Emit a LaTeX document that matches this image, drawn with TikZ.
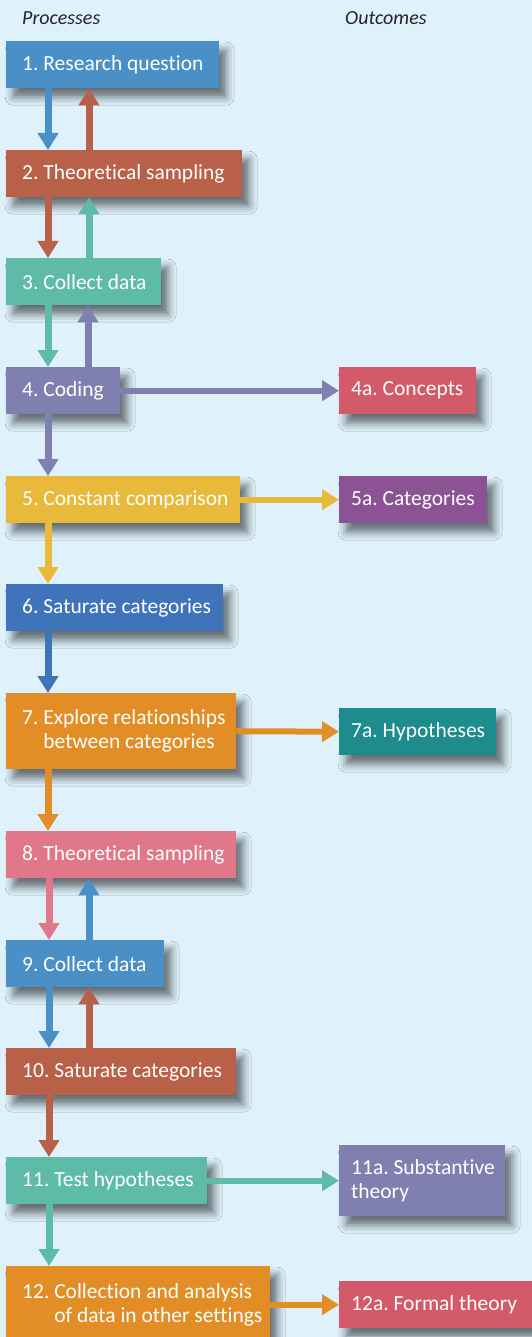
\documentclass[tikz,border=0pt]{standalone}
\usepackage{fontspec}
\setmainfont{Carlito}[Ligatures=NoCommon]
\usepackage{xcolor}
\definecolor{gtbg}{RGB}{223,242,252}
\definecolor{gthead}{RGB}{35,35,35}
\definecolor{gtblue}{RGB}{74,144,198}
\definecolor{gtrust}{RGB}{184,96,72}
\definecolor{gtteal}{RGB}{93,187,167}
\definecolor{gtviolet}{RGB}{128,128,176}
\definecolor{gtrose}{RGB}{211,90,104}
\definecolor{gtyellow}{RGB}{232,185,58}
\definecolor{gtplum}{RGB}{139,82,148}
\definecolor{gtroyal}{RGB}{64,116,186}
\definecolor{gtorange}{RGB}{226,141,38}
\definecolor{gtpetrol}{RGB}{30,140,140}
\definecolor{gtpink}{RGB}{224,120,137}
\usepackage{tikz}
\usetikzlibrary{arrows.meta, positioning, shadows.blur}

\tikzset{
  proc/.style={anchor=north west, inner sep=0pt, minimum height=47pt,
    blur shadow={shadow xshift=7pt, shadow yshift=-9pt, shadow blur radius=8pt, shadow opacity=55}},
  plbl/.style={anchor=west, text=white, font=\fontsize{21.5}{24}\selectfont\frenchspacing,
    inner xsep=16pt, inner ysep=0pt, align=left},
  olbl/.style={plbl, inner xsep=12pt},
  flow/.style={line width=7pt, -{Triangle[width=20pt,length=17pt]}},
  side/.style={line width=6pt, -{Triangle[width=20pt,length=17pt]}},
  head/.style={font=\fontsize{20}{22}\selectfont\itshape, text=gthead, anchor=base west, inner sep=0pt}
}

\begin{document}
\begin{tikzpicture}[x=1pt, y=-1pt]
  % Background
  \fill[gtbg] (0,0) rectangle (532,1337);
  \useasboundingbox (0,0) rectangle (532,1337);

  % Column headings
  \node[head] (hproc) at (22,25) {Processes};
  \node[head] (hout) at (345,25) {Outcomes};

  % Processes
  \node[proc, fill=gtblue, minimum width=213pt, label={[plbl]west:1. Research question}] (b1) at (6,41) {};
  \node[proc, fill=gtrust, minimum width=236pt, label={[plbl]west:2. Theoretical sampling}] (b2) at (6,150) {};
  \node[proc, fill=gtteal, minimum width=155pt, label={[plbl]west:3. Collect data}] (b3) at (6,258) {};
  \node[proc, fill=gtviolet, minimum width=114pt, label={[plbl]west:4. Coding}] (b4) at (6,367) {};
  \node[proc, fill=gtyellow, minimum width=234pt, label={[plbl]west:5. Constant comparison}] (b5) at (6,476) {};
  \node[proc, fill=gtroyal, minimum width=217pt, label={[plbl]west:6. Saturate categories}] (b6) at (6,584) {};
  \node[proc, fill=gtorange, minimum width=230pt, minimum height=76pt,
    label={[plbl]west:{7. Explore relationships\\\phantom{7. }between categories}}] (b7) at (6,693) {};
  \node[proc, fill=gtpink, minimum width=230pt, label={[plbl]west:8. Theoretical sampling}] (b8) at (6,831) {};
  \node[proc, fill=gtblue, minimum width=158pt, label={[plbl]west:9. Collect data}] (b9) at (6,940) {};
  \node[proc, fill=gtrust, minimum width=230pt, label={[plbl]west:10. Saturate categories}] (b10) at (6,1048) {};
  \node[proc, fill=gtteal, minimum width=201pt, label={[plbl]west:11. Test hypotheses}] (b11) at (6,1157) {};
  \node[proc, fill=gtorange, minimum width=264pt, minimum height=78pt,
    label={[plbl]west:{12. Collection and analysis\\\phantom{12. }of data in other settings}}] (b12) at (6,1266) {};

  % Outcomes
  \node[proc, fill=gtrose, minimum width=137pt, label={[olbl]west:4a. Concepts}] (o4) at (339,367) {};
  \node[proc, fill=gtplum, minimum width=148pt, label={[olbl]west:5a. Categories}] (o5) at (339,476) {};
  \node[proc, fill=gtpetrol, minimum width=157pt, label={[olbl]west:7a. Hypotheses}] (o7) at (339,708) {};
  \node[proc, fill=gtviolet, minimum width=166pt, minimum height=71pt,
    label={[olbl]west:{11a. Substantive\\theory}}] (o11) at (339,1145) {};
  \node[proc, fill=gtrose, minimum width=200pt, label={[olbl]west:12a. Formal theory}] (o12) at (339,1281) {};

  % Down and back arrows between processes
  \draw[flow, gtblue] ([xshift=42pt]b1.south west) -- ([xshift=42pt]b2.north west);
  \draw[flow, gtrust] ([xshift=83pt]b2.north west) -- ([xshift=83pt]b1.south west);
  \draw[flow, gtrust] ([xshift=42pt]b2.south west) -- ([xshift=42pt]b3.north west);
  \draw[flow, gtteal] ([xshift=83pt]b3.north west) -- ([xshift=83pt]b2.south west);
  \draw[flow, gtteal] ([xshift=42pt]b3.south west) -- ([xshift=42pt]b4.north west);
  \draw[flow, gtviolet] ([xshift=82pt]b4.north west) -- ([xshift=82pt]b3.south west);
  \draw[flow, gtviolet] ([xshift=42pt]b4.south west) -- ([xshift=42pt]b5.north west);
  \draw[flow, gtyellow] ([xshift=42pt]b5.south west) -- ([xshift=42pt]b6.north west);
  \draw[flow, gtroyal] ([xshift=42pt]b6.south west) -- ([xshift=42pt]b7.north west);
  \draw[flow, gtorange] ([xshift=42pt]b7.south west) -- ([xshift=42pt]b8.north west);
  \draw[flow, gtpink] ([xshift=43pt]b8.south west) -- ([xshift=43pt]b9.north west);
  \draw[flow, gtblue] ([xshift=83pt]b9.north west) -- ([xshift=83pt]b8.south west);
  \draw[flow, gtblue] ([xshift=43pt]b9.south west) -- ([xshift=43pt]b10.north west);
  \draw[flow, gtrust] ([xshift=83pt]b10.north west) -- ([xshift=83pt]b9.south west);
  \draw[flow, gtrust] ([xshift=43pt]b10.south west) -- ([xshift=43pt]b11.north west);
  \draw[flow, gtteal] ([xshift=43pt]b11.south west) -- ([xshift=43pt]b12.north west);

  % Arrows to outcomes
  \draw[side, gtviolet] (b4.east) -- (o4.west);
  \draw[side, gtyellow] (b5.east) -- (o5.west);
  \draw[side, gtorange] (b7.east) -- (o7.west);
  \draw[side, gtteal] (b11.east |- o11.west) -- (o11.west);
  \draw[side, gtorange] (b12.east |- o12.west) -- (o12.west);
\end{tikzpicture}
\end{document}
